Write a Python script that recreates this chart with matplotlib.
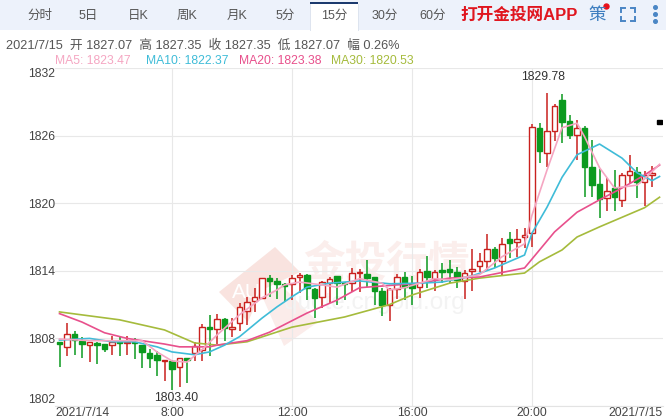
import matplotlib
matplotlib.use("Agg")
import matplotlib.pyplot as plt
from matplotlib.patches import Polygon, Rectangle

plt.rcParams["font.family"] = ["Liberation Sans", "Noto Sans CJK SC"]

W, H = 666, 419

TABS = ["分时", "5日", "日K", "周K", "月K", "5分", "15分", "30分", "60分"]
HEADER = "2021/7/15  开 1827.07  高 1827.35  收 1827.35  低 1827.07  幅 0.26%"
MA_LABELS = ["MA5: 1823.47", "MA10: 1822.37", "MA20: 1823.38", "MA30: 1820.53"]

opens = [1807.65, 1807.2, 1808.35, 1807.75, 1807.45, 1807.6, 1807.5, 1807.4, 1807.75, 1807.6,
         1807.65, 1807.4, 1806.7, 1806.5, 1806.0, 1805.95, 1805.45, 1806.25, 1806.7, 1806.95,
         1809.05, 1808.8, 1809.7, 1808.85, 1809.35, 1810.45, 1811.35, 1811.6, 1813.35, 1813.1,
         1812.85, 1812.85, 1813.45, 1813.65, 1812.4, 1811.7, 1812.9, 1813.55, 1812.9, 1812.9,
         1813.8, 1813.7, 1813.45, 1812.2, 1811.0, 1812.4, 1813.45, 1812.85, 1812.55, 1814.0,
         1813.3, 1814.1, 1814.15, 1813.9, 1813.1, 1814.0, 1814.45, 1814.9, 1815.95, 1814.9,
         1816.8, 1816.55, 1817.0, 1817.35, 1826.65, 1824.45, 1826.4, 1829.15, 1827.3, 1826.05,
         1826.65, 1823.2, 1821.7, 1820.45, 1821.35, 1820.3, 1822.5, 1822.75, 1821.9, 1822.5,
         1827.07]
closes = [1807.5, 1808.35, 1807.9, 1807.5, 1807.65, 1807.45, 1807.05, 1807.65, 1807.55, 1807.65,
          1807.55, 1806.75, 1806.3, 1806.05, 1806.05, 1805.25, 1806.25, 1806.05, 1807.3, 1809.0,
          1808.8, 1809.7, 1808.9, 1809.05, 1810.8, 1811.25, 1811.7, 1813.35, 1813.1, 1812.85,
          1812.65, 1813.35, 1813.65, 1812.5, 1811.6, 1813.0, 1813.3, 1812.9, 1812.8, 1813.8,
          1813.9, 1813.35, 1812.2, 1811.0, 1812.4, 1813.45, 1812.55, 1812.5, 1813.9, 1813.45,
          1813.9, 1813.9, 1813.9, 1813.2, 1813.8, 1814.15, 1814.9, 1815.95, 1815.15, 1816.4,
          1816.45, 1816.8, 1817.2, 1826.75, 1824.65, 1826.4, 1828.6, 1827.2, 1826.05, 1826.65,
          1823.2, 1821.6, 1820.4, 1821.1, 1820.55, 1822.5, 1822.85, 1821.9, 1822.5, 1822.7,
          1827.35]
highs = [1807.65, 1809.4, 1808.7, 1808.1, 1807.65, 1807.65, 1807.5, 1808.2, 1808.1, 1808.2,
         1808.0, 1807.4, 1807.1, 1806.9, 1806.1, 1806.05, 1806.25, 1806.3, 1807.65, 1809.3,
         1810.05, 1810.2, 1809.8, 1809.8, 1811.1, 1811.7, 1812.5, 1813.4, 1813.6, 1813.35,
         1812.95, 1813.6, 1813.8, 1813.7, 1812.5, 1813.1, 1813.45, 1813.55, 1813.0, 1814.25,
         1814.15, 1815.0, 1813.45, 1812.5, 1812.5, 1813.7, 1813.9, 1813.55, 1814.15, 1815.3,
         1814.1, 1814.7, 1815.0, 1814.35, 1814.1, 1815.95, 1815.6, 1817.3, 1816.15, 1816.9,
         1817.45, 1817.7, 1817.8, 1827.0, 1827.1, 1829.78, 1828.8, 1829.7, 1827.85, 1827.4,
         1826.85, 1825.6, 1823.0, 1822.25, 1822.95, 1822.7, 1824.3, 1823.2, 1822.85, 1823.3,
         1827.35]
lows = [1805.5, 1806.4, 1806.5, 1806.3, 1805.9, 1805.7, 1806.75, 1806.5, 1806.4, 1806.5,
        1806.2, 1805.4, 1805.4, 1804.65, 1804.2, 1803.4, 1803.7, 1804.0, 1805.95, 1805.95,
        1806.4, 1807.5, 1807.8, 1808.1, 1808.65, 1809.2, 1810.35, 1811.5, 1811.7, 1811.5,
        1811.25, 1811.4, 1812.05, 1811.4, 1809.8, 1810.7, 1811.15, 1811.0, 1811.4, 1812.1,
        1812.1, 1812.6, 1811.0, 1810.0, 1809.55, 1811.5, 1811.4, 1811.0, 1811.6, 1812.5,
        1812.2, 1812.9, 1812.9, 1812.5, 1811.5, 1812.2, 1813.9, 1814.1, 1814.25, 1813.5,
        1815.15, 1815.25, 1816.0, 1816.1, 1823.55, 1823.2, 1825.5, 1825.3, 1825.7, 1823.85,
        1820.55, 1820.55, 1818.7, 1819.3, 1819.3, 1819.65, 1821.8, 1820.45, 1819.75, 1821.45,
        1827.07]

ma5_idx = [0, 4, 11, 13, 15, 17, 19, 21, 24, 27, 29, 30, 32, 35, 37, 40, 43, 44, 46, 48, 50, 52, 56,
           59, 62, 63, 65, 67, 69, 70, 72, 74, 77, 78, 80]
ma5_val = [1807.95, 1807.8, 1807.8, 1806.8, 1806.0, 1805.9, 1807.0, 1808.3, 1810.1, 1811.6, 1812.3,
           1812.75, 1813.0, 1812.75, 1812.55, 1813.3, 1812.9, 1812.3, 1812.5, 1812.9, 1813.3, 1813.2,
           1813.65, 1815.25, 1816.4, 1818.95, 1822.95, 1826.7, 1827.1, 1825.9, 1823.15, 1821.35,
           1821.6, 1822.15, 1823.45]
ma10_idx = [0, 4, 7, 10, 13, 15, 18, 20, 22, 24, 27, 29, 31, 33, 36, 40, 44, 48, 51, 55, 58, 62, 63,
            65, 67, 69, 72, 75, 77, 79, 80]
ma10_val = [1807.85, 1808.0, 1807.7, 1807.7, 1807.25, 1806.8, 1806.55, 1806.8, 1807.4, 1808.15,
            1809.8, 1810.8, 1811.7, 1812.55, 1812.9, 1813.1, 1812.85, 1812.9, 1813.0, 1813.55,
            1814.25, 1815.4, 1817.35, 1819.65, 1822.3, 1824.3, 1825.25, 1824.0, 1822.7, 1822.0,
            1822.37]
ma20_idx = [0, 3, 6, 9, 14, 16, 20, 21, 25, 28, 33, 37, 40, 43, 48, 52, 56, 62, 64, 66, 69, 72, 75,
            78, 80]
ma20_val = [1810.2, 1809.45, 1808.5, 1808.0, 1807.5, 1807.25, 1807.25, 1807.4, 1807.8, 1808.55,
            1810.25, 1811.4, 1812.5, 1812.65, 1812.9, 1813.35, 1813.45, 1814.25, 1815.85, 1817.45,
            1819.2, 1820.3, 1821.35, 1822.5, 1823.38]
ma30_idx = [0, 8, 14, 18, 21, 25, 31, 38, 44, 47, 52, 56, 62, 64, 67, 69, 72, 78, 80]
ma30_val = [1810.35, 1809.65, 1808.75, 1807.6, 1807.4, 1807.7, 1809.0, 1809.9, 1811.0, 1811.85,
            1812.9, 1813.35, 1813.8, 1814.8, 1815.85, 1817.0, 1817.9, 1819.6, 1820.53]

y_ticks = [1802, 1808, 1814, 1820, 1826, 1832]
x_ticks = [-0.6, 15, 31, 47, 63, 80.46]
x_labels = ["2021/7/14", "8:00", "12:00", "16:00", "20:00", "2021/7/15"]

RED = "#c9211e"
GREEN = "#0b9a1f"
TEXT = "#444444"
MA_COLORS = ["#f5a6c2", "#3fbcd8", "#e8508c", "#a5bb3c"]

fig = plt.figure(figsize=(W / 100, H / 100), dpi=100, facecolor="white")

# pixel layer under the chart: watermark
bg = fig.add_axes([0, 0, 1, 1], zorder=0)
bg.set_xlim(0, W)
bg.set_ylim(H, 0)
bg.axis("off")
bg.add_patch(Polygon([(219, 292), (275, 247), (300, 272), (262, 290), (248, 322)], fc="#f9e3df", ec="none"))
bg.add_patch(Polygon([(262, 296), (282, 286), (318, 322), (284, 346)], fc="#fbecea", ec="none"))
bg.text(246, 292, "AU", color="white", fontsize=15, ha="center", va="center")
bg.text(386, 264, "金投行情", color="#fbeeec", fontsize=30, ha="center", va="center", fontweight="bold")
bg.text(374, 303, "quote.cngold.org", color="#f3f3f3", fontsize=17.5, ha="center", va="center")

# chart
ax = fig.add_axes([55 / W, 1 - 406 / H, (663 - 55) / W, (406 - 68) / H], zorder=1)
ax.patch.set_alpha(0)
ax.set_xlim(-0.6, 80.46)
ax.set_ylim(1802, 1832)
for s in ["top", "left", "right"]:
    ax.spines[s].set_visible(False)
ax.spines["bottom"].set_color("#e3e3e3")
ax.spines["bottom"].set_linewidth(0.8)
ax.grid(True, axis="y", color="#e8e8e8", lw=0.8)
ax.set_axisbelow(True)
for t in x_ticks[1:-1]:
    ax.axvline(t, color="#e8e8e8", lw=0.8, zorder=0.5)

ax.set_yticks(y_ticks)
ax.set_xticks(x_ticks)
ax.set_xticklabels(x_labels)
ax.tick_params(length=0, labelsize=8.7, labelcolor=TEXT)
ax.tick_params(axis="y", pad=0)
ax.tick_params(axis="x", pad=1)
ylabels = ax.get_yticklabels()
ylabels[0].set_va("bottom")
ylabels[-1].set_va("top")
xlabels = ax.get_xticklabels()
xlabels[0].set_ha("left")
xlabels[-1].set_ha("right")

for i in range(len(opens)):
    up = closes[i] >= opens[i]
    col = RED if up else GREEN
    if i == len(opens) - 1:
        col = "black"
    ax.vlines(i, lows[i], highs[i], color=col, lw=1.1, zorder=2)
    ax.bar(i, abs(closes[i] - opens[i]), bottom=min(opens[i], closes[i]), width=0.7,
           facecolor="white" if up and i < len(opens) - 1 else col,
           edgecolor=col, linewidth=1.0, zorder=3)

ax.plot(ma30_idx, ma30_val, color=MA_COLORS[3], lw=1.2, zorder=4, solid_joinstyle="round")
ax.plot(ma20_idx, ma20_val, color=MA_COLORS[2], lw=1.2, zorder=4, solid_joinstyle="round")
ax.plot(ma10_idx, ma10_val, color=MA_COLORS[1], lw=1.2, zorder=4, solid_joinstyle="round")
ax.plot(ma5_idx, ma5_val, color=MA_COLORS[0], lw=1.2, zorder=4, solid_joinstyle="round")

ax.annotate("1829.78", xy=(65, max(highs)), xytext=(-3, 7), textcoords="offset points",
            ha="center", va="bottom", fontsize=8.7, color="#333333")
ax.annotate("1803.40", xy=(15, min(lows)), xytext=(3, -1), textcoords="offset points",
            ha="center", va="top", fontsize=8.7, color="#333333")

# pixel layer over the chart: toolbar and header
top = fig.add_axes([0, 0, 1, 1], zorder=2)
top.set_xlim(0, W)
top.set_ylim(H, 0)
top.axis("off")
top.add_patch(Rectangle((0, 0), W, 30.5, fc="#edf2fb", ec="none"))
top.add_patch(Rectangle((310, 3), 48, 28, fc="white", ec="none"))
top.add_patch(Rectangle((310, 2.5), 48, 2, fc="#1c3a6e", ec="none"))
top.plot([358, 358], [4, 30], color="#dde4ef", lw=0.7)
top.plot([310, 310], [4, 30], color="#dde4ef", lw=0.7)

tab_x = [40, 88, 138, 187, 237, 285, 334, 385, 433]
for label, x in zip(TABS, tab_x):
    top.text(x, 16, label, color="#555555", fontsize=9, ha="center", va="center")

top.text(519, 15, "打开金投网APP", color="#e0161f", fontsize=12, fontweight="bold", ha="center", va="center")
top.text(597, 15, "策", color="#3f7fc0", fontsize=12.5, ha="center", va="center")
top.plot([606], [6], "o", color="#e8101a", ms=3.6)

# fullscreen corners and menu dots
for dx, dy in [(-1, -1), (1, -1), (-1, 1), (1, 1)]:
    cx, cy = 628 + dx * 7, 15 + dy * 6.5
    top.plot([cx, cx - dx * 4], [cy, cy], color="#4a86c5", lw=1.4)
    top.plot([cx, cx], [cy, cy - dy * 4], color="#4a86c5", lw=1.4)
top.plot([655, 655, 655], [7, 14, 21], "o", color="#4a86c5", ms=2.6)

top.text(6, 45.5, HEADER, color="#555555", fontsize=9.2, ha="left", va="center")
ma_x = [55, 146, 239, 331]
for label, x, c in zip(MA_LABELS, ma_x, MA_COLORS):
    top.text(x, 60.5, label, color=c, fontsize=8.7, ha="left", va="center")

fig.savefig("out.png", dpi=100)
